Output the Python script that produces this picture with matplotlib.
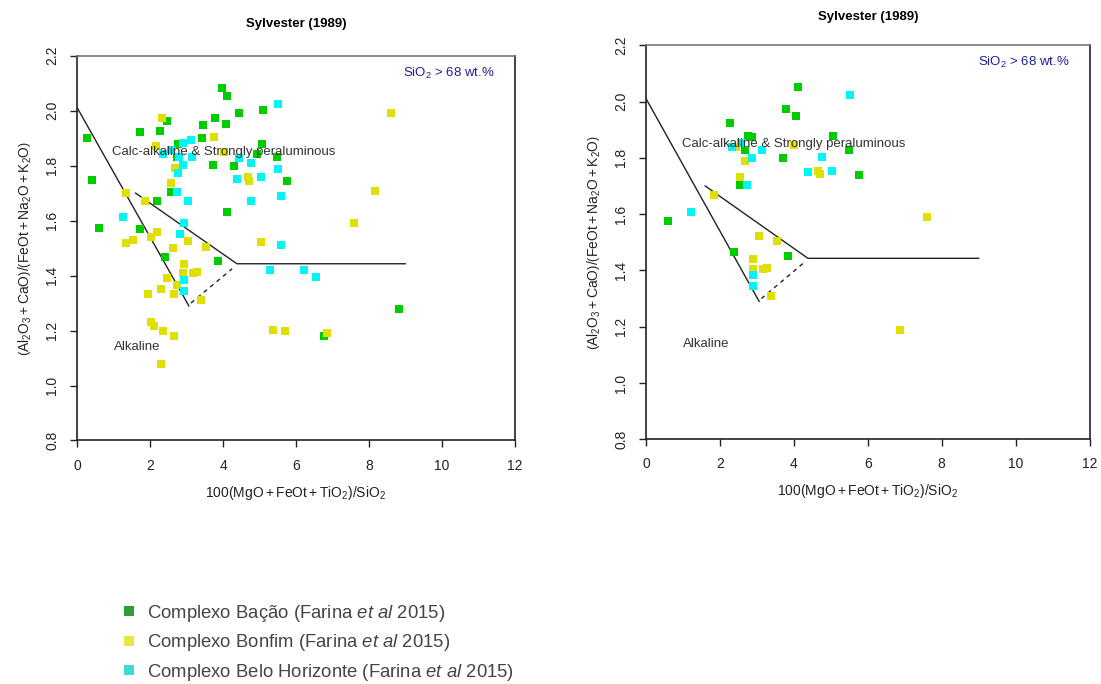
import numpy as np
import matplotlib
matplotlib.use('Agg')
import matplotlib.pyplot as plt
from matplotlib.lines import Line2D

plt.rcParams['font.family'] = ['Liberation Sans', 'DejaVu Sans']
plt.rcParams['mathtext.fontset'] = 'custom'
plt.rcParams['mathtext.rm'] = 'Liberation Sans'
plt.rcParams['mathtext.it'] = 'Liberation Sans:italic'
plt.rcParams['mathtext.bf'] = 'Liberation Sans:bold'

GREEN = '#00cc00'
YELLOW = '#e0e000'
CYAN = '#00f5f5'

# Sylvester (1989) field boundaries
line1_x = [0.0, 3.06]
line1_y = [2.01, 1.29]
line2_x = [1.6, 4.38, 9.0]
line2_y = [1.70, 1.443, 1.443]
dash_x = [3.12, 4.25]
dash_y = [1.30, 1.425]

# left panel - all samples
left_green_x = [3.98, 4.12, 4.45, 5.10, 3.79, 2.47, 4.09, 1.73, 2.28, 0.27, 3.46, 3.43, 2.76,
                5.08, 2.73, 4.94, 5.49, 3.73, 4.31, 0.41, 5.76, 2.57, 2.20, 4.12, 0.60, 1.73,
                2.41, 3.87, 8.84, 6.78]
left_green_y = [2.081, 2.052, 1.993, 2.001, 1.975, 1.964, 1.950, 1.921, 1.925, 1.899, 1.946,
                1.899, 1.879, 1.877, 1.832, 1.842, 1.830, 1.804, 1.797, 1.746, 1.743, 1.703,
                1.673, 1.633, 1.574, 1.570, 1.466, 1.452, 1.277, 1.179]
left_yellow_x = [2.33, 3.76, 2.17, 4.03, 2.69, 2.58, 4.69, 4.72, 1.34, 1.87, 2.20, 2.03, 1.54,
                 1.34, 3.05, 2.63, 3.54, 5.05, 2.94, 2.91, 3.18, 3.29, 2.47, 2.74, 2.31, 1.95,
                 2.66, 3.40, 2.03, 2.11, 2.36, 2.66, 5.38, 5.71, 2.31, 6.86, 8.62, 8.18, 7.60]
left_yellow_y = [1.972, 1.903, 1.873, 1.848, 1.793, 1.735, 1.757, 1.743, 1.699, 1.670, 1.557,
                 1.541, 1.529, 1.517, 1.525, 1.499, 1.503, 1.521, 1.441, 1.408, 1.408, 1.412,
                 1.390, 1.364, 1.350, 1.332, 1.332, 1.310, 1.230, 1.215, 1.197, 1.179, 1.201,
                 1.197, 1.077, 1.190, 1.990, 1.706, 1.593]
left_cyan_x = [5.52, 3.11, 2.91, 2.58, 2.36, 2.80, 3.16, 4.45, 4.77, 5.52, 2.91, 2.77, 4.39,
               5.05, 2.74, 5.60, 3.05, 4.77, 1.26, 2.94, 2.83, 5.60, 5.30, 6.23, 6.56, 2.94, 2.94]
left_cyan_y = [2.026, 1.895, 1.884, 1.856, 1.841, 1.833, 1.830, 1.826, 1.808, 1.786, 1.801,
               1.772, 1.750, 1.757, 1.703, 1.688, 1.670, 1.673, 1.612, 1.590, 1.553, 1.513,
               1.419, 1.419, 1.393, 1.383, 1.343]

# right panel - subset
right_green_x = [4.12, 3.79, 4.06, 2.28, 2.77, 2.87, 5.06, 2.68, 5.50, 3.71, 5.77, 2.55, 0.60,
                 2.39, 3.85]
right_green_y = [2.050, 1.972, 1.947, 1.923, 1.876, 1.873, 1.876, 1.827, 1.827, 1.800, 1.738,
                 1.702, 1.574, 1.464, 1.450]
right_yellow_x = [2.44, 4.01, 2.68, 4.66, 4.71, 2.55, 1.85, 3.05, 3.53, 2.90, 2.90, 3.17, 3.28,
                  3.39, 7.61, 6.88]
right_yellow_y = [1.837, 1.844, 1.790, 1.752, 1.741, 1.731, 1.667, 1.521, 1.503, 1.439, 1.405,
                  1.404, 1.407, 1.308, 1.589, 1.187]
right_cyan_x = [5.52, 2.58, 2.33, 3.14, 2.87, 4.77, 4.39, 5.04, 2.74, 1.22, 2.90, 2.90]
right_cyan_y = [2.022, 1.852, 1.837, 1.827, 1.798, 1.802, 1.748, 1.752, 1.702, 1.606, 1.383,
                1.344]

xticks = [0, 2, 4, 6, 8, 10, 12]
yticks = [0.8, 1.0, 1.2, 1.4, 1.6, 1.8, 2.0, 2.2]

legend_labels = [r'Complexo Bação (Farina $\mathit{et\ al}$ 2015)',
                 r'Complexo Bonfim (Farina $\mathit{et\ al}$ 2015)',
                 r'Complexo Belo Horizonte (Farina $\mathit{et\ al}$ 2015)']
legend_colors = ['#2e9e3a', '#e6e645', '#3fd9d0']

fig = plt.figure(figsize=(11.01, 6.84), dpi=100)
ax1 = fig.add_axes([0.0702, 0.356, 0.3972, 0.5626])
ax2 = fig.add_axes([0.5868, 0.3577, 0.4028, 0.5762])


def draw_panel(ax, gx, gy, yx, yy, cx, cy, title_pad):
    ax.plot(line1_x, line1_y, color='#222222', lw=1.0)
    ax.plot(line2_x, line2_y, color='#222222', lw=1.0)
    ax.plot(dash_x, dash_y, color='#222222', lw=1.0, ls=(0, (3, 3)))
    ax.scatter(gx, gy, marker='s', s=26, color=GREEN, lw=0, zorder=3)
    ax.scatter(yx, yy, marker='s', s=26, color=YELLOW, lw=0, zorder=3)
    ax.scatter(cx, cy, marker='s', s=26, color=CYAN, lw=0, zorder=3)
    ax.set_xlim(0, 12)
    ax.set_ylim(0.8, 2.2)
    ax.set_xticks(xticks)
    ax.set_yticks(yticks)
    ax.set_yticklabels(['%.1f' % v for v in yticks], rotation=90, va='center')
    ax.tick_params(direction='out', length=5, width=1, labelsize=10, pad=8, colors='#222222')
    for s in ax.spines.values():
        s.set_color('#222222')
        s.set_linewidth(1.2)
    ax.spines['top'].set_color('#777777')
    ax.text(0.96, 1.85, 'Calc-alkaline & Strongly peraluminous', fontsize=9.5,
            color='#333333', va='center')
    ax.text(1.0, 1.14, 'Alkaline', fontsize=9.5, color='#333333', va='center')
    ax.text(11.45, 2.137, r'SiO$_2$ > 68 wt.%', fontsize=9.5, color='#1f1f99',
            ha='right', va='center')
    ax.set_xlabel(r'$100\left(\mathrm{MgO + FeOt + TiO_2}\right)/\mathrm{SiO_2}$',
                  fontsize=10, color='#222222', labelpad=8)
    ax.set_ylabel(r'$\left(\mathrm{Al_2O_3 + CaO}\right)/\left(\mathrm{FeOt + Na_2O + K_2O}\right)$',
                  fontsize=10, color='#222222', labelpad=8)
    ax.set_title('Sylvester (1989)', fontsize=9.5, fontweight='bold', pad=title_pad)


draw_panel(ax1, left_green_x, left_green_y, left_yellow_x, left_yellow_y,
           left_cyan_x, left_cyan_y, 20.5)
draw_panel(ax2, right_green_x, right_green_y, right_yellow_x, right_yellow_y,
           right_cyan_x, right_cyan_y, 18.5)

handles = [Line2D([], [], ls='none', marker='s', markersize=7, color=c, markeredgewidth=0)
           for c in legend_colors]
fig.legend(handles, legend_labels, loc='upper left', bbox_to_anchor=(0.103, 0.132),
           frameon=False, prop={'family': 'Liberation Sans', 'size': 13.3},
           labelcolor='#444444', handlelength=0.7, handletextpad=0.6, labelspacing=0.46,
           borderpad=0)

fig.savefig('out.png', dpi=100)
